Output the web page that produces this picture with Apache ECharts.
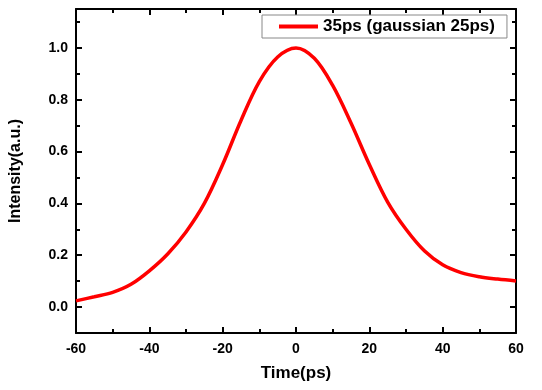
<!DOCTYPE html>
<html>
<head>
<meta charset="utf-8">
<script src="https://cdn.jsdelivr.net/npm/echarts@6/dist/echarts.min.js"></script>
<style>
html,body{margin:0;padding:0;background:#fff;}
#c{width:542px;height:390px;}
</style>
</head>
<body>
<div id="c"></div>
<script>
const seriesName = '35ps (gaussian 25ps)';
const timePs = [-60,-55,-50,-45,-40,-35,-30,-25,-20,-15,-10,-5,0,5,10,15,20,25,30,35,40,45,50,55,60];
const intensity = [0.024,0.04,0.057,0.088,0.14,0.205,0.29,0.40,0.55,0.72,0.87,0.965,1.0,0.96,0.855,0.71,0.55,0.405,0.30,0.217,0.163,0.133,0.117,0.108,0.101];
const xTicks = [-60,-40,-20,0,20,40,60];
const yTicks = [0.0,0.2,0.4,0.6,0.8,1.0];
const yMinorTicks = [0.1,0.3,0.5,0.7,0.9,1.1];

const FONT = 'Liberation Sans, Arial, sans-serif';
const chart = echarts.init(document.getElementById('c'));
const lineCol = '#000';
const axLine = {show:true, onZero:false, lineStyle:{color:lineCol, width:2}};
const noLine = {show:false, onZero:false};

const data = timePs.map((t,i)=>[t,intensity[i]]);

chart.setOption({
  animation:false,
  backgroundColor:'#fff',
  grid:{left:75, right:26, top:9, bottom:57, containLabel:false},
  legend:{
    left:262, top:15,
    data:[{name:seriesName, icon:'rect'}],
    itemWidth:39, itemHeight:4, itemGap:6,
    padding:[3,12,3,17],
    borderColor:'#888', borderWidth:1,
    textStyle:{fontFamily:FONT, fontWeight:'bold', fontSize:17, color:'#000', lineHeight:17}
  },
  xAxis:[
    {type:'value', min:-60, max:60, interval:20, position:'bottom',
     axisLine:axLine,
     axisTick:{show:true, inside:true, length:6, lineStyle:{color:lineCol, width:2}},
     minorTick:{show:true, splitNumber:2, length:4, lineStyle:{color:lineCol, width:2}},
     axisLabel:{show:true, margin:9, fontFamily:FONT, fontWeight:'bold', fontSize:14, color:'#000',
       customValues:xTicks},
     splitLine:{show:false},
     name:'Time(ps)', nameLocation:'middle', nameGap:32,
     nameTextStyle:{fontFamily:FONT, fontWeight:'bold', fontSize:17, color:'#000'}
    },
    {type:'value', min:-60, max:60, interval:20, position:'top',
     axisLine:axLine,
     axisTick:{show:true, inside:true, length:6, lineStyle:{color:lineCol, width:2}},
     minorTick:{show:true, splitNumber:2, length:4, lineStyle:{color:lineCol, width:2}},
     axisLabel:{show:false}, splitLine:{show:false}
    }
  ],
  yAxis:[
    {type:'value', min:-0.1, max:1.15, position:'left',
     axisLine:axLine,
     axisTick:{show:true, inside:true, length:6, customValues:yTicks, lineStyle:{color:lineCol, width:2}},
     axisLabel:{show:true, margin:8, fontFamily:FONT, fontWeight:'bold', fontSize:14, color:'#000',
       customValues:yTicks, formatter:v=>Number(v).toFixed(1)},
     splitLine:{show:false},
     name:'Intensity(a.u.)', nameLocation:'middle', nameGap:52,
     nameTextStyle:{fontFamily:FONT, fontWeight:'bold', fontSize:16, color:'#000'}
    },
    {type:'value', min:-0.1, max:1.15, position:'right',
     axisLine:axLine,
     axisTick:{show:true, inside:true, length:6, customValues:yTicks, lineStyle:{color:lineCol, width:2}},
     axisLabel:{show:false}, splitLine:{show:false}
    },
    {type:'value', min:-0.1, max:1.15, position:'left',
     axisLine:noLine,
     axisTick:{show:true, inside:true, length:4, customValues:yMinorTicks, lineStyle:{color:lineCol, width:2}},
     axisLabel:{show:false}, splitLine:{show:false}
    },
    {type:'value', min:-0.1, max:1.15, position:'right',
     axisLine:noLine,
     axisTick:{show:true, inside:true, length:4, customValues:yMinorTicks, lineStyle:{color:lineCol, width:2}},
     axisLabel:{show:false}, splitLine:{show:false}
    }
  ],
  series:[{
    name:seriesName, type:'line', xAxisIndex:0, yAxisIndex:0,
    data:data, smooth:0.35, showSymbol:false, symbol:'none',
    lineStyle:{color:'#f00', width:3.5},
    itemStyle:{color:'#f00'},
    clip:true
  }]
});
</script>
</body>
</html>
